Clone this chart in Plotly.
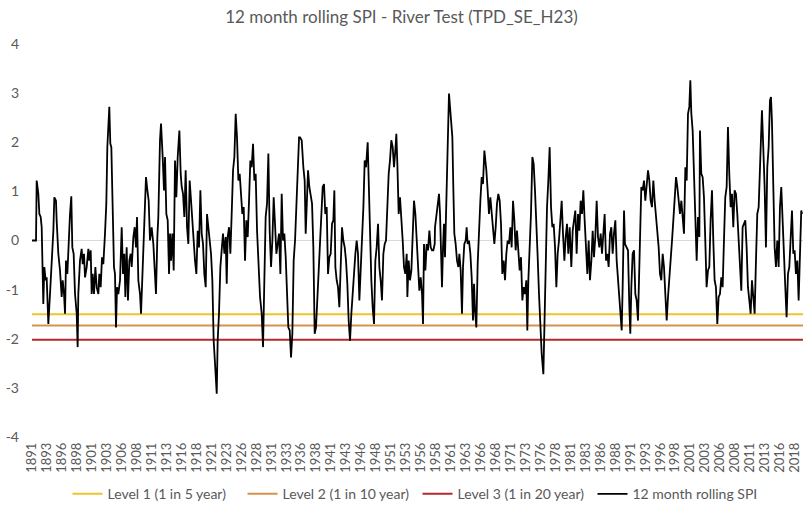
"""12 month rolling SPI for the River Test, with the three drought trigger levels."""
import plotly.graph_objects as go

TITLE = "12 month rolling SPI - River Test (TPD_SE_H23)"

# (decimal year, SPI), one list per stretch of years
spi_1891_1913 = [
    (1891.00, 0.00), (1891.67, 0.00), (1891.78, 1.22), (1892.06, 0.95), (1892.23, 0.54),
    (1892.45, 0.48), (1892.62, 0.27), (1892.78, -0.48), (1892.89, -1.29), (1893.06, -0.54),
    (1893.28, -0.81), (1893.45, -0.75), (1893.73, -1.70), (1894.01, -1.09), (1894.29, -0.54),
    (1894.57, 0.20), (1894.73, 0.88), (1895.01, 0.81), (1895.12, 0.41), (1895.40, -0.27),
    (1895.68, -0.61), (1895.96, -1.15), (1896.13, -0.81), (1896.35, -1.09), (1896.52, -1.49),
    (1896.68, -0.41), (1896.91, -0.68), (1897.07, -0.07), (1897.35, 0.54), (1897.57, 0.90),
    (1897.74, -0.14), (1897.96, -0.27), (1898.19, -1.09), (1898.47, -1.49), (1898.63, -2.17),
    (1898.74, -1.09), (1899.02, -0.41), (1899.30, -0.17), (1899.47, -0.48), (1899.69, -0.27),
    (1899.86, -0.75), (1900.14, -0.54), (1900.42, -0.17), (1900.58, -0.41), (1900.81, -0.20),
    (1900.97, -1.09), (1901.14, -0.68), (1901.36, -1.09), (1901.59, -0.54), (1901.81, -0.95),
    (1902.09, -1.09), (1902.25, -0.68), (1902.48, -0.95), (1902.70, -0.34), (1902.92, -0.48),
    (1903.20, 0.14), (1903.42, 0.75), (1903.59, 1.90), (1903.76, 2.24), (1903.92, 2.72),
    (1904.09, 1.97), (1904.26, 1.90), (1904.48, 0.68), (1904.70, -0.54), (1904.87, -0.68),
    (1905.04, -1.77), (1905.21, -0.95), (1905.43, -1.09), (1905.71, -0.81), (1905.99, 0.27),
    (1906.21, -0.68), (1906.43, -0.27), (1906.60, -1.15), (1906.82, -0.14), (1907.04, -1.22),
    (1907.27, -0.41), (1907.49, -0.27), (1907.66, -0.54), (1907.94, 0.07), (1908.16, 0.27),
    (1908.38, -0.14), (1908.55, 0.48), (1908.77, -0.81), (1909.05, -1.09), (1909.22, -1.49),
    (1909.38, -0.95), (1909.61, -0.41), (1909.89, 0.54), (1910.05, 1.29), (1910.28, 1.02),
    (1910.50, 0.81), (1910.72, 0.00), (1911.00, 0.27), (1911.28, -0.07), (1911.56, -0.95),
    (1911.72, -1.09), (1911.95, 0.07), (1912.11, 0.48), (1912.39, 2.04), (1912.56, 2.38),
    (1912.84, 1.70), (1913.06, 1.02),
]
spi_1913_1935 = [
    (1913.23, 1.70), (1913.45, 0.54), (1913.68, 0.41), (1913.90, -0.68), (1914.07, 0.14),
    (1914.23, -0.41), (1914.46, 0.14), (1914.68, -0.61), (1914.90, 1.63), (1915.12, 0.88),
    (1915.35, 1.70), (1915.63, 2.24), (1915.85, 1.36), (1916.02, 1.09), (1916.24, 0.95),
    (1916.46, 0.48), (1916.68, 1.43), (1916.91, 0.27), (1917.13, -0.07), (1917.35, 1.22),
    (1917.58, 0.81), (1917.80, 0.34), (1918.02, 0.00), (1918.24, -0.41), (1918.47, -0.68),
    (1918.69, 0.20), (1918.91, -0.14), (1919.14, 1.02), (1919.36, 0.14), (1919.58, -0.07),
    (1919.80, -0.68), (1920.03, -0.95), (1920.25, 0.54), (1920.47, 0.27), (1920.70, -0.14),
    (1920.92, -0.27), (1921.14, -0.81), (1921.36, -2.04), (1921.59, -2.51), (1921.87, -3.12),
    (1922.03, -2.04), (1922.25, -1.49), (1922.48, -0.54), (1922.70, -0.27), (1922.92, 0.14),
    (1923.15, -0.27), (1923.37, 0.07), (1923.54, -0.88), (1923.70, 0.07), (1923.93, 0.27),
    (1924.15, -0.27), (1924.37, 0.54), (1924.60, 1.43), (1924.82, 1.70), (1925.04, 2.58),
    (1925.26, 2.10), (1925.49, 1.22), (1925.71, 1.36), (1925.93, 0.81), (1926.15, 0.54),
    (1926.38, 0.68), (1926.60, -0.41), (1926.82, 0.41), (1927.05, 0.07), (1927.27, 0.81),
    (1927.49, 1.63), (1927.71, 1.49), (1927.94, 1.97), (1928.16, 1.22), (1928.38, 1.36),
    (1928.61, 0.20), (1928.83, -0.54), (1929.11, -1.15), (1929.39, -1.49), (1929.61, -2.17),
    (1929.83, -0.81), (1930.05, 0.48), (1930.28, 0.75), (1930.50, 1.77), (1930.72, 0.20),
    (1930.95, -0.54), (1931.17, 0.00), (1931.39, 0.88), (1931.61, 0.34), (1931.84, -0.27),
    (1932.06, -0.07), (1932.28, 0.14), (1932.51, -0.68), (1932.73, 0.95), (1932.95, 0.00),
    (1933.17, 0.14), (1933.40, -0.34), (1933.62, -1.15), (1933.84, -1.77), (1934.07, -1.83),
    (1934.29, -2.38), (1934.51, -1.90), (1934.73, -0.41), (1934.96, 0.00), (1935.18, 0.68),
    (1935.40, 1.22), (1935.63, 2.10),
]
spi_1935_1958 = [
    (1935.79, 2.10), (1936.07, 2.04), (1936.35, 1.49), (1936.57, 1.22), (1936.74, 0.14),
    (1936.90, 0.81), (1937.13, 1.43), (1937.35, 1.09), (1937.57, 0.88), (1937.80, 0.75),
    (1938.02, -0.14), (1938.24, -1.90), (1938.46, -1.77), (1938.69, -1.15), (1938.91, -0.54),
    (1939.13, -0.14), (1939.36, 0.75), (1939.58, 1.09), (1939.80, 1.15), (1940.02, 0.54),
    (1940.25, 0.68), (1940.47, -0.68), (1940.69, -0.34), (1940.92, -0.27), (1941.14, 0.34),
    (1941.36, 0.41), (1941.53, 1.02), (1941.70, -0.54), (1941.92, -0.81), (1942.14, -0.95),
    (1942.36, -1.36), (1942.59, -0.54), (1942.81, 0.27), (1943.03, 0.00), (1943.26, -0.14),
    (1943.48, -0.41), (1943.70, -0.88), (1943.92, -1.63), (1944.15, -2.04), (1944.37, -1.49),
    (1944.59, -1.09), (1944.82, -0.48), (1945.04, -0.27), (1945.26, 0.00), (1945.48, -0.27),
    (1945.71, -1.22), (1945.93, -0.61), (1946.15, -0.27), (1946.38, 0.68), (1946.60, 1.63),
    (1946.82, 1.49), (1947.10, 2.00), (1947.27, 1.15), (1947.49, -0.14), (1947.71, -0.81),
    (1947.93, -1.36), (1948.16, -1.70), (1948.38, -0.41), (1948.60, -0.14), (1948.83, 0.34),
    (1949.05, -0.54), (1949.27, -0.81), (1949.49, -1.22), (1949.72, -0.27), (1949.94, -0.07),
    (1950.16, 0.00), (1950.39, 0.68), (1950.61, 1.36), (1950.83, 1.63), (1951.05, 2.04),
    (1951.28, 1.90), (1951.50, 1.49), (1951.72, 1.83), (1951.89, 2.17), (1952.06, 1.56),
    (1952.28, 0.54), (1952.50, 0.88), (1952.73, 0.27), (1952.95, 0.00), (1953.17, -0.54),
    (1953.39, -0.68), (1953.62, -0.27), (1953.73, -1.15), (1953.95, -0.41), (1954.17, -0.81),
    (1954.40, -0.61), (1954.62, 0.00), (1954.84, 0.81), (1955.07, 0.54), (1955.29, 0.00),
    (1955.51, -0.54), (1955.73, -1.02), (1955.96, -0.75), (1956.18, -1.09), (1956.35, -1.70),
    (1956.51, -0.07), (1956.74, -0.61), (1956.96, -0.07), (1957.18, -0.20), (1957.41, 0.20),
    (1957.63, -0.14), (1957.85, -0.20), (1958.07, -0.20), (1958.30, -0.07),
]
spi_1958_1981 = [
    (1958.35, 0.27), (1958.57, 0.48), (1958.80, 0.68), (1959.02, 0.95), (1959.19, 0.54),
    (1959.35, -0.34), (1959.52, -0.95), (1959.69, -0.14), (1959.85, 0.34), (1960.02, -0.34),
    (1960.19, 0.34), (1960.36, 1.36), (1960.52, 2.17), (1960.69, 2.99), (1960.86, 2.65),
    (1961.02, 2.58), (1961.25, 2.10), (1961.41, 1.09), (1961.58, 0.14), (1961.80, -0.07),
    (1962.03, -0.41), (1962.25, -0.54), (1962.42, -0.27), (1962.64, -0.61), (1962.86, -1.49),
    (1963.03, -0.54), (1963.25, -0.07), (1963.48, 0.00), (1963.64, 0.27), (1963.81, -0.07),
    (1964.03, 0.00), (1964.26, -0.27), (1964.48, -0.75), (1964.70, -1.63), (1964.87, -0.88),
    (1965.04, -1.43), (1965.26, -1.77), (1965.48, -0.48), (1965.70, 0.27), (1965.93, 0.81),
    (1966.15, 1.29), (1966.37, 1.15), (1966.60, 1.83), (1966.71, 1.70), (1966.93, 1.43),
    (1967.15, 1.02), (1967.37, 0.54), (1967.60, 0.88), (1967.82, 0.54), (1968.04, 0.14),
    (1968.27, -0.07), (1968.49, 0.27), (1968.71, 0.75), (1968.93, 0.95), (1969.16, 0.81),
    (1969.38, 0.34), (1969.60, -0.68), (1969.83, -0.41), (1970.05, -0.81), (1970.27, -0.27),
    (1970.49, 0.00), (1970.72, -0.07), (1970.94, 0.27), (1971.16, -0.14), (1971.39, 0.81),
    (1971.61, 0.41), (1971.83, -0.20), (1972.05, 0.20), (1972.28, -0.27), (1972.50, -0.61),
    (1972.72, -0.34), (1972.95, -1.22), (1973.17, -0.95), (1973.39, -1.09), (1973.61, -0.81),
    (1973.78, -1.83), (1973.95, -0.81), (1974.17, -0.14), (1974.39, 0.54), (1974.62, 1.70),
    (1974.84, 1.56), (1975.06, 1.02), (1975.29, 0.41), (1975.51, -0.34), (1975.73, -1.09),
    (1975.95, -1.77), (1976.18, -2.31), (1976.46, -2.72), (1976.62, -1.63), (1976.85, -0.14),
    (1977.07, 0.68), (1977.29, 1.22), (1977.51, 1.90), (1977.74, 0.68), (1977.96, 0.27),
    (1978.18, 0.34), (1978.41, -0.14), (1978.63, -0.95), (1978.85, -0.27), (1979.07, 0.00),
    (1979.30, 0.41), (1979.52, 0.81), (1979.74, 0.14), (1979.97, -0.41), (1980.19, 0.07),
    (1980.41, 0.34), (1980.63, -0.27), (1980.86, 0.27),
]
spi_1981_2002 = [
    (1981.13, -0.54), (1981.36, 0.20), (1981.58, 0.41), (1981.80, 0.61), (1982.02, -0.27),
    (1982.25, 0.54), (1982.47, 0.20), (1982.69, 0.81), (1982.92, 0.54), (1983.14, 1.02),
    (1983.36, 0.41), (1983.58, -0.14), (1983.81, -0.68), (1984.03, 0.00), (1984.25, -0.81),
    (1984.48, -0.41), (1984.70, 0.20), (1984.92, -0.34), (1985.14, 0.07), (1985.37, 0.81),
    (1985.59, 0.07), (1985.81, -0.14), (1986.04, 0.14), (1986.26, -0.27), (1986.48, 0.07),
    (1986.70, 0.54), (1986.93, -0.41), (1987.15, -0.27), (1987.37, -0.54), (1987.60, 0.14),
    (1987.82, 0.27), (1988.04, -0.27), (1988.26, 0.14), (1988.49, 0.41), (1988.71, -0.41),
    (1988.93, -0.81), (1989.16, -1.22), (1989.38, -1.49), (1989.55, -1.83), (1989.71, -0.95),
    (1989.94, 0.61), (1990.10, -0.07), (1990.38, -0.14), (1990.60, -0.20), (1990.83, -1.36),
    (1990.99, -1.90), (1991.16, -0.95), (1991.38, -0.27), (1991.61, -0.20), (1991.83, -1.09),
    (1992.05, -1.22), (1992.27, -1.63), (1992.44, -0.81), (1992.61, 0.20), (1992.83, 1.09),
    (1993.05, 1.02), (1993.28, 1.22), (1993.50, 0.81), (1993.72, 1.22), (1993.95, 1.43),
    (1994.17, 1.22), (1994.39, 0.81), (1994.61, 0.68), (1994.84, 1.22), (1995.06, 0.81),
    (1995.28, 0.54), (1995.51, 0.27), (1995.73, -0.14), (1995.95, -0.68), (1996.17, -0.81),
    (1996.40, -0.27), (1996.62, -0.54), (1996.84, -1.09), (1997.07, -1.63), (1997.29, -1.15),
    (1997.51, -0.81), (1997.73, -0.54), (1997.96, 0.00), (1998.18, 0.41), (1998.40, 0.88),
    (1998.63, 1.29), (1998.85, 1.09), (1999.07, 0.81), (1999.29, 0.54), (1999.52, 0.81),
    (1999.74, 0.41), (1999.96, 0.14), (2000.19, 1.49), (2000.41, 1.22), (2000.63, 2.58),
    (2000.85, 2.72), (2001.02, 3.26), (2001.19, 2.58), (2001.41, 2.24), (2001.63, 1.36),
    (2001.86, 0.27), (2002.08, -0.41), (2002.30, 0.48), (2002.53, 0.07),
]
spi_2002_2019 = [
    (2002.63, 2.24), (2002.85, 1.36), (2003.08, 1.29), (2003.30, 0.88), (2003.52, 0.00),
    (2003.74, -0.95), (2003.97, -0.61), (2004.19, -0.54), (2004.41, 0.41), (2004.64, 1.02),
    (2004.86, 0.00), (2005.08, -0.81), (2005.30, -0.95), (2005.53, -1.70), (2005.75, -1.15),
    (2005.97, -1.09), (2006.20, -0.75), (2006.42, -0.95), (2006.64, 0.00), (2006.86, 0.88),
    (2007.09, 1.09), (2007.31, 2.31), (2007.53, 1.36), (2007.76, 0.68), (2007.98, 0.95),
    (2008.20, 0.27), (2008.42, 1.02), (2008.65, 0.95), (2008.87, 0.54), (2009.09, 0.00),
    (2009.32, -0.54), (2009.54, -1.02), (2009.76, 0.27), (2009.98, 0.34), (2010.21, 0.41),
    (2010.43, -0.14), (2010.65, -0.95), (2010.88, -1.22), (2011.10, -1.49), (2011.32, -0.81),
    (2011.54, -1.09), (2011.77, -1.49), (2011.99, -0.41), (2012.21, 0.54), (2012.44, 0.68),
    (2012.66, 1.49), (2012.88, 2.58), (2012.99, 2.65), (2013.21, 1.90), (2013.44, 1.09),
    (2013.66, -0.14), (2013.88, 1.49), (2014.11, 1.90), (2014.33, 2.85), (2014.50, 2.92),
    (2014.66, 2.44), (2014.89, 1.09), (2015.11, -0.14), (2015.33, -0.54), (2015.55, 0.00),
    (2015.78, -0.54), (2016.00, 0.68), (2016.22, 1.09), (2016.45, 0.27), (2016.67, -0.54),
    (2016.89, -0.95), (2017.11, -1.56), (2017.34, -0.68), (2017.56, -0.54), (2017.78, 0.14),
    (2018.01, 0.61), (2018.23, -0.27), (2018.45, -0.20), (2018.67, -0.68), (2018.90, -0.41),
    (2019.12, -1.22), (2019.34, -0.27), (2019.56, 0.61), (2019.68, 0.54),
]

# drought trigger levels
level_names = ["Level 1 (1 in 5 year)", "Level 2 (1 in 10 year)", "Level 3 (1 in 20 year)"]
level_values = [-1.50, -1.73, -2.02]
level_colors = ["#EEC32B", "#D7914C", "#B3282D"]

# category labels every 30 months, as Excel shows them
tick_years = [1891 + 2.5 * k for k in range(52)]
tick_text = [str(int(t)) for t in tick_years]
y_ticks = list(range(-4, 5))

points = (spi_1891_1913 + spi_1913_1935 + spi_1935_1958
          + spi_1958_1981 + spi_1981_2002 + spi_2002_2019)
years = [p[0] for p in points]
spi = [p[1] for p in points]
x_end = 2019.85

FONT = "Lato, 'Open Sans', sans-serif"
GREY = "#595959"

fig = go.Figure()
for name, val, col in zip(level_names, level_values, level_colors):
    fig.add_trace(go.Scatter(x=[years[0], x_end], y=[val, val], mode="lines", name=name,
                             line=dict(color=col, width=2)))
fig.add_trace(go.Scatter(x=years, y=spi, mode="lines", name="12 month rolling SPI",
                         line=dict(color="black", width=1.8)))

fig.update_layout(
    width=803, height=510,
    margin=dict(l=32, r=0, t=44, b=73, autoexpand=False),
    paper_bgcolor="white", plot_bgcolor="white",
    font=dict(family=FONT, color=GREY, size=13),
    title=dict(text=TITLE, x=0.5, xanchor="center", y=0.966, yanchor="middle",
               font=dict(size=17, color=GREY)),
    showlegend=True,
    legend=dict(orientation="h", x=0.5, xanchor="center", yref="container", y=0.031,
                yanchor="middle", font=dict(size=14, color=GREY), itemwidth=30,
                entrywidth=130, entrywidthmode="pixels", traceorder="normal"),
)
fig.update_xaxes(range=[1891, x_end], tickmode="array", tickvals=tick_years, ticktext=tick_text,
                 tickangle=-90, tickfont=dict(size=13, color=GREY), showgrid=False,
                 zeroline=False, showline=False, ticks="", ticklabelstandoff=2, automargin=False)
fig.update_yaxes(range=[-4, 4], tickmode="array", tickvals=y_ticks,
                 ticktext=[str(v) for v in y_ticks], showgrid=False, zeroline=True,
                 zerolinecolor="#D9D9D9", zerolinewidth=1, showline=False, ticks="",
                 tickfont=dict(size=14, color=GREY), ticklabelstandoff=12, automargin=False)

fig.write_html("out.html", config={"displayModeBar": False},
               post_script="document.body.style.margin = '0';")
